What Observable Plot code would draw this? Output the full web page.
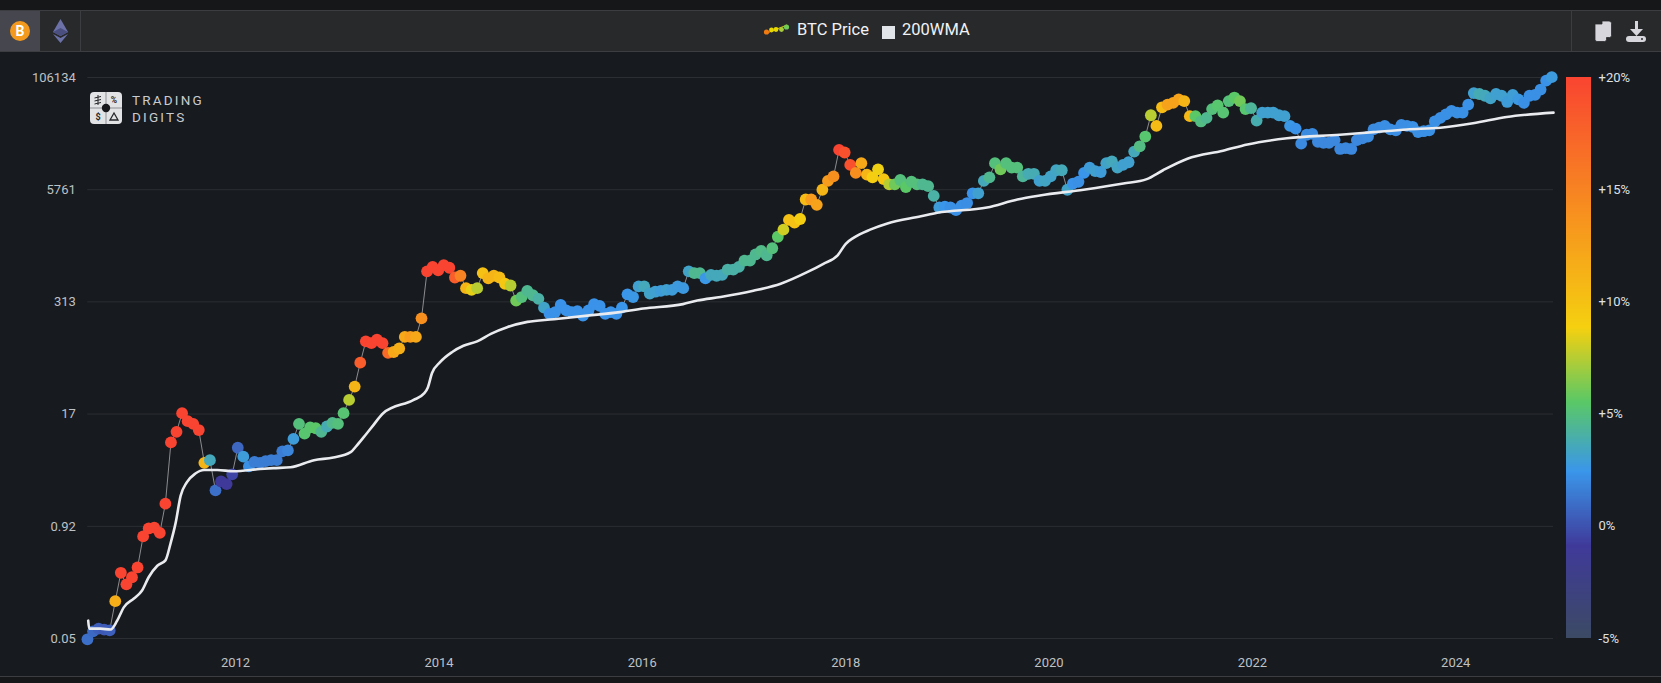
<!DOCTYPE html>
<html>
<head>
<meta charset="utf-8">
<script src="https://cdn.jsdelivr.net/npm/d3@7"></script>
<script src="https://cdn.jsdelivr.net/npm/@observablehq/plot@0.6"></script>
<style>
html,body{margin:0;padding:0;width:1661px;height:683px;overflow:hidden;background:#161718;font-family:Roboto,sans-serif}
#panel{position:absolute;left:0;top:51px;width:1661px;height:625px;background:#171a1f}
#panel svg{position:absolute;top:0}
#header{position:absolute;left:0;top:10px;width:1661px;height:40px;background:#28292b;border-top:1px solid #3c3d41;border-bottom:1px solid #3c3d41;box-sizing:content-box}
#foot{position:absolute;left:0;top:676px;width:1661px;height:1px;background:#3c3d41}
#active{position:absolute;left:0;top:0;width:40px;height:40px;background:#46474e}
.div{position:absolute;top:0;width:1px;height:40px;background:#3c3d41}
.lg{position:absolute;top:8px;color:#f0f2f5;font-size:16.5px;line-height:22px;white-space:nowrap}
#logo{position:absolute;left:90px;top:92px;width:120px;height:34px}
#logoText{position:absolute;left:132px;top:92px;color:#c9cbce;font-size:13.5px;line-height:16.5px;letter-spacing:2.2px}
</style>
</head>
<body>
<div id="panel"></div>
<div id="header">
  <div id="active"></div>
  <div class="div" style="left:80px"></div>
  <div class="div" style="left:1571px"></div>
  <svg style="position:absolute;left:0;top:0" width="1661" height="40">
    <circle cx="20" cy="20" r="10" fill="#f39a1e"/>
    <text x="20" y="25" text-anchor="middle" fill="#fff" font-size="14" font-weight="700" font-family="Roboto">B</text>
    <path d="M60.5 8 L53 21 L60.5 25 L68 21 Z" fill="#6c72a8"/>
    <path d="M53 21 L60.5 17 L68 21 L60.5 25 Z" fill="#4a4f80"/>
    <path d="M53 23 L60.5 27 L68 23 L60.5 32 Z" fill="#6c72a8"/>
    <line x1="767" y1="22" x2="787" y2="14" stroke="#e0c000" stroke-width="1"/>
    <circle cx="766.5" cy="21" r="2.6" fill="#f07a10"/>
    <circle cx="771.5" cy="19" r="2.4" fill="#e6d800"/>
    <circle cx="776" cy="18.5" r="2.4" fill="#e6d800"/>
    <circle cx="781.5" cy="18.5" r="2.4" fill="#a8cc3a"/>
    <circle cx="786.5" cy="16" r="2.6" fill="#70cc55"/>
    <rect x="882" y="15" width="13" height="13" fill="#e1e5ea"/>
    <path d="M1595 13 h7 v-3 h7 a2.5 2.5 0 0 1 2.5 2.5 v12 a2 2 0 0 1-2 2 h-3 v2 a2 2 0 0 1-2 2 h-7.5 a2 2 0 0 1-2-2 v-15 Z" fill="#d6d6dc" stroke="#28292b" stroke-width=".8"/>
    <path d="M1635 10 h3 v8 h5 l-6.5 7 l-6.5-7 h5 Z" fill="#d6d6dc"/>
    <rect x="1626" y="25" width="20" height="6" rx="3" fill="#d6d6dc"/>
    <circle cx="1642" cy="28" r="1" fill="#28292b"/>
  </svg>
  <div class="lg" style="left:797px">BTC Price</div>
  <div class="lg" style="left:902px">200WMA</div>
</div>
<div id="foot"></div>
<svg id="logo" viewBox="0 0 120 34">
  <rect x="0" y="0" width="32" height="32" rx="4" fill="#e2e3e5"/>
  <line x1="16" y1="0" x2="16" y2="32" stroke="#8d8f93" stroke-width="1"/>
  <line x1="0" y1="16" x2="32" y2="16" stroke="#8d8f93" stroke-width="1"/>
  <circle cx="16" cy="16" r="4.2" fill="#17181b"/>
  <text x="24" y="11" text-anchor="middle" font-size="8.5" font-weight="700" fill="#26272a" font-family="Roboto">%</text>
  <text x="8" y="28" text-anchor="middle" font-size="9" font-weight="700" fill="#26272a" font-family="Roboto">$</text>
  <path d="M24 21 L28 28 L20 28 Z" fill="none" stroke="#26272a" stroke-width="1.3"/>
  <path d="M8 3 V13 M4.5 6 L11 4.5 M4.5 9 L11 7.5 M4.5 12 L11 10.5" stroke="#26272a" stroke-width="1" fill="none"/>
</svg>
<div id="logoText">TRADING<br>DIGITS</div>
<script>
// log10 of BTC price, one reading every twenty days from the first date
const firstDate = "2010-07-18";
const stepDays = 20;
const priceLog10 = [
-1.31,-1.22,-1.19,-1.20,-1.21,-0.88,-0.56,-0.69,-0.61,-0.50,
-0.15,-0.06,-0.05,-0.11,0.22,0.91,1.03,1.24,1.15,1.12,
1.05,0.68,0.71,0.37,0.47,0.44,0.55,0.85,0.75,0.64,
0.69,0.68,0.70,0.71,0.71,0.81,0.82,0.95,1.12,1.01,
1.08,1.07,1.03,1.09,1.13,1.12,1.24,1.39,1.54,1.81,
2.05,2.03,2.07,2.03,1.92,1.93,1.97,2.10,2.10,2.10,
2.31,2.84,2.89,2.85,2.91,2.88,2.77,2.79,2.65,2.63,
2.65,2.82,2.76,2.79,2.77,2.70,2.68,2.51,2.55,2.62,
2.57,2.53,2.43,2.36,2.38,2.46,2.40,2.38,2.39,2.34,
2.40,2.47,2.45,2.36,2.38,2.36,2.43,2.58,2.55,2.67,
2.67,2.59,2.61,2.62,2.63,2.63,2.67,2.65,2.84,2.82,
2.82,2.76,2.80,2.79,2.80,2.86,2.86,2.89,2.96,2.96,
3.03,3.07,3.02,3.10,3.23,3.31,3.42,3.39,3.43,3.65,
3.65,3.59,3.76,3.86,3.91,4.21,4.18,4.04,3.95,4.06,
3.93,3.90,3.99,3.88,3.82,3.82,3.87,3.79,3.85,3.82,
3.82,3.80,3.69,3.56,3.57,3.56,3.53,3.58,3.61,3.72,
3.72,3.86,3.90,4.06,3.99,4.06,4.01,4.01,3.91,3.94,
3.94,3.86,3.86,3.91,3.98,3.98,3.76,3.83,3.85,3.95,
4.01,3.97,3.96,4.06,4.08,4.01,4.04,4.07,4.19,4.25,
4.36,4.60,4.48,4.69,4.72,4.74,4.78,4.76,4.59,4.59,
4.53,4.57,4.67,4.71,4.63,4.76,4.80,4.76,4.67,4.68,
4.54,4.63,4.63,4.63,4.60,4.59,4.48,4.45,4.28,4.38,
4.39,4.30,4.29,4.29,4.32,4.22,4.23,4.22,4.32,4.34,
4.36,4.44,4.46,4.48,4.44,4.43,4.49,4.48,4.47,4.41,
4.42,4.43,4.53,4.57,4.61,4.65,4.63,4.63,4.72,4.85,
4.84,4.82,4.79,4.84,4.82,4.75,4.83,4.78,4.74,4.82,
4.83,4.89,4.99,5.03
];
// colour value of each dot, percent
const pctValues = [
1,0.8,0.4,0.2,0.4,11.5,20,20,20,20,
20,20,20,20,20,20,20,20,20,20,
20,11,3.5,1,-1,-1,-0.5,0.7,2.8,2.2,
1.5,1.5,1.5,1.5,1.5,1.5,1.8,2.8,5,5.3,
5.3,5.5,4.5,3.7,4.6,5,5.2,7.5,11,18,
20,20,20,20,17,12,11.5,12,13,12,
14,20,20,20,20,20,18,15,11,8.5,
7.5,10,11,11,10.5,9.5,7.5,6,5,4.5,
4.5,4,3.2,2.3,2.3,2.3,2.3,2.3,2.3,2.3,
2.3,2.3,2.3,2.3,2.3,2.3,2.4,2.4,2.5,3,
3.5,3.2,3,2.8,3,2.8,2.7,2.6,3.2,4.5,
4.5,2.5,3.5,3.5,3.5,4,4,4,4.5,4.5,
4.5,4.7,4.5,5,5.5,8,10,10,9,10.5,
13,12.5,11,13,14,20,19,19,14,12,
11,9,8.7,9.5,7.5,6,5,5.5,5,5,
4.5,4.5,4,2.8,2.4,2.2,2.2,2.2,2.1,2.3,
3,3.5,4.5,5,6,5,5,5,4.3,3.7,
3.7,3,3.3,3.2,3.3,3.6,3.2,2.3,2.2,2.4,
2.8,3,2.8,3.2,3.5,3.3,3,3,3.5,4.8,
5.3,7.5,10.5,10.5,12.5,12.5,12.5,11,10.7,5.5,
4.8,4.5,5,5.3,5.2,5,5.5,6,5.3,4.3,
3.8,3,3,3,3,3,2.5,2.3,2,2,
2,1.9,1.9,1.9,1.9,1.9,1.9,1.9,1.9,1.9,
2,2,2,2.1,2.1,2.1,2.1,2.1,2.2,2.2,
2.2,2.2,2.2,2.2,2.2,2.2,2.2,2.2,2.3,3,
3.7,3.5,3.2,3,3,2.8,2.9,2.6,2.2,2.2,
2.2,2.2,2.3,2.7
];
// 200WMA: decimal year and log10 of value
const wmaYear = [2010.55,2010.56,2010.67,2010.77,2010.835,2010.90,2011.0,2011.08,2011.145,2011.23,2011.31,2011.36,2011.41,2011.46,2011.52,2011.605,2011.69,2011.82,2011.98,2012.24,2012.37,2012.54,2012.77,2012.96,2013.13,2013.19,2013.28,2013.35,2013.45,2013.75,2013.85,2013.89,2013.93,2014.01,2014.13,2014.24,2014.375,2014.51,2014.67,2014.87,2015.13,2015.46,2015.78,2016.01,2016.40,2016.54,2016.77,2017.09,2017.36,2017.62,2017.78,2017.92,2018.0,2018.08,2018.24,2018.41,2018.74,2018.90,2019.39,2019.69,2019.91,2020.34,2020.73,2020.96,2021.12,2021.36,2021.71,2021.95,2022.34,2022.86,2023.19,2023.52,2023.85,2024.17,2024.50,2024.96];
const wmaLog10 = [-1.10,-1.19,-1.19,-1.20,-1.10,-0.95,-0.85,-0.76,-0.61,-0.48,-0.42,-0.23,0.00,0.31,0.46,0.56,0.60,0.60,0.585,0.61,0.62,0.63,0.71,0.74,0.80,0.875,1.00,1.10,1.24,1.39,1.46,1.53,1.69,1.815,1.93,2.00,2.05,2.135,2.21,2.27,2.30,2.34,2.38,2.42,2.47,2.51,2.55,2.62,2.70,2.83,2.925,3.02,3.15,3.22,3.31,3.38,3.46,3.50,3.56,3.65,3.695,3.76,3.83,3.88,3.98,4.11,4.20,4.27,4.34,4.38,4.41,4.44,4.46,4.51,4.58,4.63];

const yTicks = [106134, 5761, 313, 17, 0.92, 0.05];
const xTickYears = [2012, 2014, 2016, 2018, 2020, 2022, 2024];
const pctTicks = [-5, 0, 5, 10, 15, 20];
const colorStops = [-5, -0.9, 2.4, 5.5, 8.8, 20];
const colorRange = ["#3c4a64", "#3f3a9a", "#3a96ea", "#5ac866", "#f5d010", "#f94431"];

const yearToDate = y => {
  const whole = Math.floor(y);
  const a = Date.UTC(whole, 0, 1), b = Date.UTC(whole + 1, 0, 1);
  return new Date(a + (y - whole) * (b - a));
};
const start = new Date(firstDate + "T00:00:00Z");
const btc = priceLog10.map((v, i) => ({
  date: d3.utcDay.offset(start, i * stepDays),
  price: Math.pow(10, v),
  pct: pctValues[i]
}));
const wma = wmaYear.map((y, i) => ({date: yearToDate(y), value: Math.pow(10, wmaLog10[i])}));
const colorScale = {type: "linear", domain: colorStops, range: colorRange, clamp: true};

const main = Plot.plot({
  width: 1661, height: 625,
  marginLeft: 87.3, marginRight: 108, marginTop: 26, marginBottom: 38,
  style: {background: "transparent", color: "#bfc1c4", fontFamily: "Roboto, sans-serif", fontSize: "13px"},
  x: {type: "utc", domain: [yearToDate(2010.546), yearToDate(2024.96)]},
  y: {type: "log", domain: [0.05, 106134], axis: null},
  color: colorScale,
  marks: [
    Plot.gridY(yTicks, {stroke: "#2b2e33", strokeOpacity: 1, strokeWidth: 1}),
    Plot.text(yTicks, {y: d => d, text: d => String(d), frameAnchor: "left", textAnchor: "end", dx: -12, fontSize: 13}),
    Plot.axisX(xTickYears.map(y => new Date(Date.UTC(y, 0, 1))), {tickSize: 0, tickPadding: 19, tickFormat: d3.utcFormat("%Y"), label: null}),
    Plot.line(btc, {x: "date", y: "price", stroke: "#8b8c8e", strokeWidth: 1}),
    Plot.dot(btc, {x: "date", y: "price", fill: "pct", r: 5.9}),
    Plot.line(wma, {x: "date", y: "value", stroke: "#e9ebef", strokeWidth: 2.6, curve: "monotone-x"})
  ]
});
main.style.left = "0px";
document.getElementById("panel").appendChild(main);

const ramp = d3.range(-5, 20, 0.05);
const bar = Plot.plot({
  width: 108, height: 625,
  marginLeft: 13, marginRight: 70, marginTop: 26, marginBottom: 38,
  style: {background: "transparent", color: "#dfe0e2", fontFamily: "Roboto, sans-serif", fontSize: "13px"},
  x: {domain: [0, 1], axis: null},
  y: {domain: [-5, 20]},
  color: colorScale,
  marks: [
    Plot.rect(ramp, {x1: 0, x2: 1, y1: d => d, y2: d => d + 0.08, fill: d => d, clip: true, shapeRendering: "crispEdges"}),
    Plot.axisY(pctTicks, {anchor: "right", tickSize: 0, tickPadding: 7, label: null,
      tickFormat: d => (d > 0 ? "+" : "") + d + "%"})
  ]
});
bar.style.left = "1553px";
document.getElementById("panel").appendChild(bar);
</script>
</body>
</html>
